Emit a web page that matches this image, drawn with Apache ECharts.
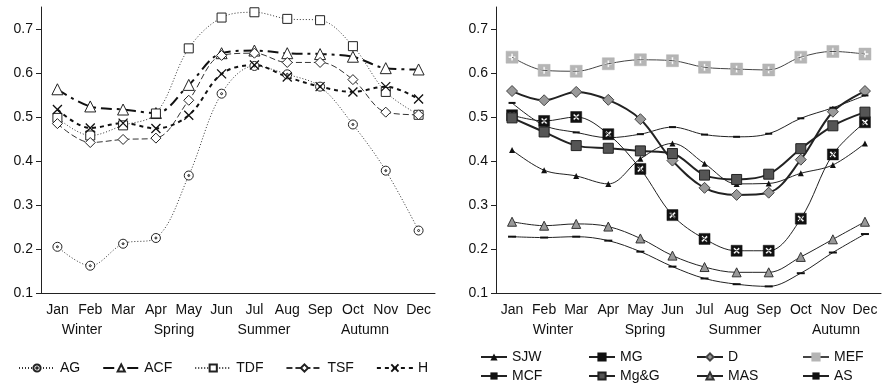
<!DOCTYPE html>
<html lang="en">
<head>
    <meta charset="UTF-8">
    <title>Monthly series</title>
    <script src="https://cdn.jsdelivr.net/npm/echarts@6/dist/echarts.min.js"></script>
    <style>
        body { margin: 0; background: #fff; }
        #chart { width: 888px; height: 385px; }
    </style>
</head>
<body>
    <div id="chart"></div>
    <script>
        // data
        var months = ['Jan', 'Feb', 'Mar', 'Apr', 'May', 'Jun', 'Jul', 'Aug', 'Sep', 'Oct', 'Nov', 'Dec'];
        var seasons = ['Winter', 'Spring', 'Summer', 'Autumn'];
        var yTicks = [0.1, 0.2, 0.3, 0.4, 0.5, 0.6, 0.7];

        // left panel
        var AG  = [0.205, 0.162, 0.212, 0.225, 0.367, 0.553, 0.616, 0.597, 0.569, 0.483, 0.378, 0.242];
        var ACF = [0.563, 0.524, 0.517, 0.509, 0.573, 0.645, 0.651, 0.645, 0.643, 0.637, 0.611, 0.608];
        var TDF = [0.498, 0.458, 0.481, 0.508, 0.656, 0.726, 0.738, 0.723, 0.720, 0.661, 0.557, 0.505];
        var TSF = [0.485, 0.442, 0.449, 0.452, 0.538, 0.640, 0.645, 0.624, 0.624, 0.585, 0.511, 0.505];
        var H   = [0.517, 0.475, 0.486, 0.474, 0.504, 0.598, 0.618, 0.591, 0.569, 0.557, 0.569, 0.541];

        // right panel
        var SJW = [0.425, 0.379, 0.366, 0.348, 0.405, 0.440, 0.394, 0.348, 0.349, 0.372, 0.391, 0.440];
        var MG  = [0.504, 0.491, 0.500, 0.461, 0.382, 0.277, 0.223, 0.196, 0.196, 0.269, 0.415, 0.488];
        var D   = [0.559, 0.538, 0.557, 0.539, 0.495, 0.401, 0.339, 0.323, 0.328, 0.403, 0.512, 0.559];
        var MEF = [0.636, 0.606, 0.604, 0.621, 0.630, 0.628, 0.613, 0.609, 0.607, 0.636, 0.649, 0.643];
        var MCF = [0.532, 0.481, 0.465, 0.453, 0.461, 0.477, 0.460, 0.455, 0.462, 0.497, 0.521, 0.549];
        var MgG = [0.498, 0.466, 0.435, 0.429, 0.423, 0.417, 0.368, 0.358, 0.370, 0.428, 0.480, 0.511];
        var MAS = [0.262, 0.253, 0.257, 0.251, 0.224, 0.185, 0.159, 0.147, 0.147, 0.182, 0.222, 0.262];
        var AS  = [0.228, 0.226, 0.228, 0.219, 0.194, 0.160, 0.133, 0.120, 0.115, 0.145, 0.192, 0.234];

        var font = 'Liberation Sans, Arial, sans-serif';

        // marker shapes
        var dotCircle = 'path://M5,0A5,5 0 1,1 4.99,0Z M5,3.9A1.1,1.1 0 1,0 5.01,3.9Z';
        var cross = 'path://M0,0L10,10M10,0L0,10';
        var boxX = 'path://M0,0L10,0L10,10L0,10Z M3.8,5L2,6.8L3.2,8L5,6.2L6.8,8L8,6.8L6.2,5L8,3.2L6.8,2L5,3.8L3.2,2L2,3.2Z';
        var boxPlus = 'path://M0,0L10,0L10,10L0,10Z M4.2,2L4.2,4.2L2,4.2L2,5.8L4.2,5.8L4.2,8L5.8,8L5.8,5.8L8,5.8L8,4.2L5.8,4.2L5.8,2Z';
        var dash = 'path://M0,0L10,0L10,3L0,3Z';

        var chart = echarts.init(document.getElementById('chart'));

        function axisPair(i) {
            return {
                x: {
                    type: 'category', gridIndex: i, data: months,
                    axisLine: { lineStyle: { color: '#222', width: 1 } },
                    axisTick: { length: 5, lineStyle: { color: '#222' } },
                    axisLabel: { color: '#111', fontSize: 14, fontFamily: font, margin: 10, interval: 0 }
                },
                y: {
                    type: 'value', gridIndex: i, min: 0.1, max: 0.75, splitNumber: 6,
                    axisLine: { show: true, lineStyle: { color: '#222', width: 1 } },
                    axisTick: { show: true, length: 5, lineStyle: { color: '#222' }, customValues: yTicks },
                    splitLine: { show: false },
                    axisLabel: { color: '#111', fontSize: 14, fontFamily: font, margin: 8,
                        customValues: yTicks,
                        formatter: function (v) { return v > 0.71 ? '' : v.toFixed(1); } }
                }
            };
        }
        var a0 = axisPair(0), a1 = axisPair(1);

        function line(name, data, idx, sym, size, st, ls) {
            return {
                name: name, type: 'line', data: data,
                xAxisIndex: idx, yAxisIndex: idx,
                smooth: 0.35, symbol: sym, symbolSize: size,
                showSymbol: true, z: 3,
                itemStyle: st,
                lineStyle: ls,
                emphasis: { disabled: true }
            };
        }

        var series = [
            line('AG', AG, 0, dotCircle, 9, { color: '#fff', borderColor: '#222', borderWidth: 1 },
                { color: '#333', width: 1, type: [1, 2] }),
            line('ACF', ACF, 0, 'triangle', 11, { color: '#fff', borderColor: '#222', borderWidth: 1 },
                { color: '#111', width: 2, type: [11, 5, 3, 5] }),
            line('TDF', TDF, 0, 'rect', 9, { color: '#fff', borderColor: '#222', borderWidth: 1 },
                { color: '#333', width: 1, type: [1, 2] }),
            line('TSF', TSF, 0, 'diamond', 10, { color: '#fff', borderColor: '#222', borderWidth: 1 },
                { color: '#333', width: 1, type: [6, 3] }),
            line('H', H, 0, cross, 9, { color: 'none', borderColor: '#111', borderWidth: 1.3 },
                { color: '#111', width: 2, type: [4, 4] }),

            line('SJW', SJW, 1, 'triangle', 6, { color: '#111', borderColor: '#111', borderWidth: 0 },
                { color: '#222', width: 1 }),
            line('MG', MG, 1, boxX, 11, { color: '#111', borderColor: '#111', borderWidth: 0.5 },
                { color: '#222', width: 1 }),
            line('D', D, 1, 'diamond', 11, { color: '#999', borderColor: '#444', borderWidth: 1 },
                { color: '#222', width: 2 }),
            line('MEF', MEF, 1, boxPlus, 12, { color: '#b5b5b5', borderColor: '#b5b5b5', borderWidth: 0.5 },
                { color: '#444', width: 1 }),
            line('MCF', MCF, 1, dash, [7, 2], { color: '#111' },
                { color: '#222', width: 1 }),
            line('Mg&G', MgG, 1, 'rect', 10, { color: '#555', borderColor: '#222', borderWidth: 1 },
                { color: '#222', width: 2 }),
            line('MAS', MAS, 1, 'triangle', 9, { color: '#999', borderColor: '#333', borderWidth: 1 },
                { color: '#222', width: 1 }),
            line('AS', AS, 1, dash, [8, 2], { color: '#111' },
                { color: '#222', width: 1 })
        ];

        var legendText = { color: '#111', fontSize: 14, fontFamily: font };
        function legendCol(names, left, top) {
            return {
                data: names, left: left, top: top, orient: 'vertical', padding: 0,
                itemWidth: 26, itemHeight: 9, itemGap: 5,
                textStyle: legendText, selectedMode: false
            };
        }

        // season labels sit between month labels
        var leftSeasonX = [82, 174, 264, 365];
        var rightSeasonX = [553, 645, 735, 836];
        var graphics = [];
        seasons.forEach(function (s, i) {
            graphics.push({ type: 'text', x: leftSeasonX[i], y: 330,
                style: { text: s, fill: '#111', font: '14px ' + font, align: 'center', verticalAlign: 'middle' } });
            graphics.push({ type: 'text', x: rightSeasonX[i], y: 330,
                style: { text: s, fill: '#111', font: '14px ' + font, align: 'center', verticalAlign: 'middle' } });
        });

        var option = {
            backgroundColor: '#fff',
            animation: false,
            grid: [
                { left: 41, right: 453, top: 7, bottom: 92 },
                { left: 496, right: 7, top: 7, bottom: 92 }
            ],
            xAxis: [a0.x, a1.x],
            yAxis: [a0.y, a1.y],
            legend: [
                {
                    data: ['AG', 'ACF', 'TDF', 'TSF', 'H'], left: 18, top: 361, padding: 0,
                    itemWidth: 36, itemHeight: 9, itemGap: 22,
                    textStyle: { color: '#111', fontSize: 14, fontFamily: font }, selectedMode: false
                },
                legendCol(['SJW', 'MCF'], 480, 350),
                legendCol(['MG', 'Mg&G'], 588, 350),
                legendCol(['D', 'MAS'], 696, 350),
                legendCol(['MEF', 'AS'], 802, 350)
            ],
            graphic: graphics,
            series: series
        };

        chart.setOption(option);
    </script>
</body>
</html>
